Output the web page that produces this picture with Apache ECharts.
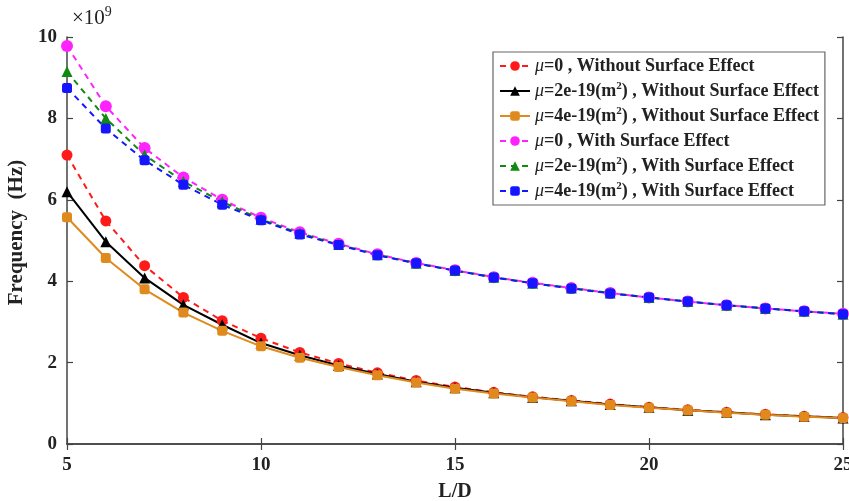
<!DOCTYPE html>
<html>
<head>
<meta charset="utf-8">
<script src="https://cdn.jsdelivr.net/npm/echarts@6/dist/echarts.min.js"></script>
<style>
  html, body { margin: 0; padding: 0; background: #fff; }
  #main { width: 849px; height: 501px; }
</style>
</head>
<body>
<div id="main"></div>
<script>
// L/D ratio
const ratios = [5, 6, 7, 8, 9, 10, 11, 12, 13, 14, 15, 16, 17, 18, 19, 20, 21, 22, 23, 24, 25];

// frequency values, x10^9 Hz
const mu0NoSurface = [7.1, 5.48, 4.38, 3.6, 3.03, 2.6, 2.25, 1.98, 1.75, 1.56, 1.4, 1.27, 1.16, 1.07, 0.98, 0.9, 0.84, 0.78, 0.73, 0.68, 0.65];
const mu2NoSurface = [6.2, 4.97, 4.08, 3.42, 2.93, 2.48, 2.18, 1.93, 1.72, 1.53, 1.38, 1.26, 1.15, 1.06, 0.97, 0.9, 0.83, 0.78, 0.72, 0.68, 0.64];
const mu4NoSurface = [5.57, 4.57, 3.8, 3.23, 2.78, 2.4, 2.12, 1.89, 1.69, 1.51, 1.36, 1.24, 1.14, 1.05, 0.96, 0.89, 0.83, 0.77, 0.72, 0.67, 0.64];
const mu0Surface = [9.78, 8.3, 7.27, 6.55, 6.0, 5.56, 5.2, 4.92, 4.66, 4.45, 4.27, 4.1, 3.96, 3.83, 3.71, 3.6, 3.5, 3.41, 3.33, 3.26, 3.2];
const mu2Surface = [9.15, 8.0, 7.1, 6.45, 5.95, 5.52, 5.18, 4.9, 4.65, 4.44, 4.26, 4.1, 3.95, 3.83, 3.71, 3.6, 3.5, 3.41, 3.33, 3.26, 3.19];
const mu4Surface = [8.75, 7.75, 6.97, 6.37, 5.88, 5.5, 5.15, 4.89, 4.64, 4.44, 4.26, 4.09, 3.95, 3.82, 3.7, 3.6, 3.5, 3.41, 3.33, 3.26, 3.19];

const seriesNames = [
  "μ=0 , Without Surface Effect",
  "μ=2e-19(m2) , Without Surface Effect",
  "μ=4e-19(m2) , Without Surface Effect",
  "μ=0 , With Surface Effect",
  "μ=2e-19(m2) , With Surface Effect",
  "μ=4e-19(m2) , With Surface Effect"
];
const xTicks = [5, 10, 15, 20, 25];
const yTicks = [0, 2, 4, 6, 8, 10];

const FONT = "'Liberation Serif', 'Times New Roman', serif";

const chartDom = document.getElementById("main");
const myChart = echarts.init(chartDom);

const pairs = (vals) => ratios.map((r, i) => [r, vals[i]]);

const makeSeries = (name, vals, color, symbol, size, dashed) => ({
  name: name,
  type: "line",
  data: pairs(vals),
  symbol: symbol,
  symbolSize: size,
  itemStyle: { color: color },
  lineStyle: { color: color, width: 2, type: dashed ? [6, 5] : "solid" },
  emphasis: { disabled: true },
});

// legend text: italic mu and superscript 2
const legendFormatter = (name) => {
  let s = name.replace("μ", "{mu|μ}");
  s = s.replace("(m2)", "(m{sup|2})");
  return s;
};

const axisLine = { show: true, lineStyle: { color: "#444", width: 1.5 } };
const tickInside = { show: true, inside: true, length: 6, lineStyle: { color: "#444", width: 1.2 } };

const option = {
  animation: false,
  backgroundColor: "#fff",
  title: {
    text: "×10{sup|9}",
    left: 67,
    top: 0,
    textStyle: {
      fontFamily: FONT,
      fontSize: 21,
      fontWeight: "normal",
      color: "#222",
      rich: {
        sup: { fontFamily: FONT, fontSize: 14, color: "#222", padding: [0, 0, 12, 0] },
      },
    },
  },
  grid: { left: 67, right: 6, top: 37, bottom: 57, outerBoundsMode: "none" },
  legend: {
    left: 493,
    top: 52,
    orient: "vertical",
    backgroundColor: "#fff",
    borderColor: "#666",
    borderWidth: 1.2,
    padding: [4, 6, 4, 6],
    itemWidth: 30,
    itemHeight: 12,
    itemGap: 5,
    formatter: legendFormatter,
    data: seriesNames,
    textStyle: {
      fontFamily: FONT,
      fontSize: 18,
      fontWeight: "bold",
      color: "#222",
      lineHeight: 20,
      rich: {
        mu: { fontFamily: FONT, fontSize: 18, fontStyle: "italic", fontWeight: "normal", color: "#222", lineHeight: 20 },
        sup: { fontFamily: FONT, fontSize: 11, fontWeight: "bold", color: "#222", padding: [0, 0, 9, 0], lineHeight: 20 },
      },
    },
  },
  xAxis: [
    {
      type: "value",
      min: 5,
      max: 25,
      interval: 5,
      name: "L/D",
      nameLocation: "middle",
      nameGap: 38,
      nameTextStyle: { fontFamily: FONT, fontSize: 20, fontWeight: "bold", color: "#222" },
      axisLine: axisLine,
      axisTick: tickInside,
      axisLabel: {
        fontFamily: FONT, fontSize: 19, fontWeight: "bold", color: "#222", margin: 12,
        formatter: (v) => (xTicks.includes(v) ? String(v) : ""),
      },
      splitLine: { show: false },
    },
    {
      type: "value",
      position: "top",
      min: 5,
      max: 25,
      interval: 5,
      axisLine: axisLine,
      axisTick: tickInside,
      axisLabel: { show: false },
      splitLine: { show: false },
    },
  ],
  yAxis: [
    {
      type: "value",
      min: 0,
      max: 10,
      interval: 2,
      name: "Frequency  (Hz)",
      nameLocation: "middle",
      nameGap: 33,
      nameTextStyle: { fontFamily: FONT, fontSize: 21, fontWeight: "bold", color: "#222", padding: [0, 0, 0, 16] },
      axisLine: axisLine,
      axisTick: tickInside,
      axisLabel: {
        fontFamily: FONT, fontSize: 19, fontWeight: "bold", color: "#222", margin: 10,
        formatter: (v) => (yTicks.includes(v) ? String(v) : ""),
      },
      splitLine: { show: false },
    },
    {
      type: "value",
      position: "right",
      min: 0,
      max: 10,
      interval: 2,
      axisLine: axisLine,
      axisTick: tickInside,
      axisLabel: { show: false },
      splitLine: { show: false },
    },
  ],
  series: [
    makeSeries(seriesNames[0], mu0NoSurface, "#ff1a1a", "circle", 11, true),
    makeSeries(seriesNames[1], mu2NoSurface, "#000000", "triangle", 11, false),
    makeSeries(seriesNames[2], mu4NoSurface, "#e08a1e", "roundRect", 10, false),
    makeSeries(seriesNames[3], mu0Surface, "#ff22ff", "circle", 12, true),
    makeSeries(seriesNames[4], mu2Surface, "#128a12", "triangle", 11, true),
    makeSeries(seriesNames[5], mu4Surface, "#1515ff", "roundRect", 10, true),
  ],
};

option && myChart.setOption(option);
</script>
</body>
</html>
